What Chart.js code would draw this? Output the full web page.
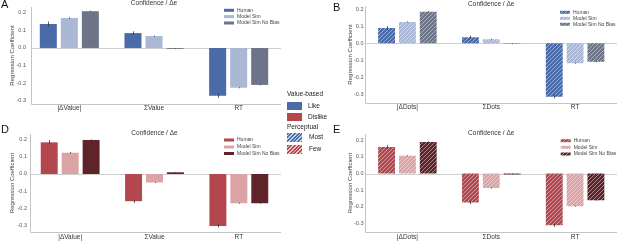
<!DOCTYPE html>
<html><head><meta charset="utf-8">
<script src="https://cdn.jsdelivr.net/npm/chart.js@4/dist/chart.umd.min.js"></script>
<style>
html,body{margin:0;padding:0;width:617px;height:241px;overflow:hidden;background:#fff;font-family:"Liberation Sans",Arial,sans-serif;}
canvas{position:absolute;}
.t{position:absolute;line-height:1;white-space:nowrap;color:#222;transform:translateY(-50%);}
.sw{position:absolute;}
.pl{position:absolute;font-size:11px;line-height:11px;color:#111;}
</style></head><body>
<canvas id="cA" width="292" height="115" style="left:0;top:0"></canvas>
<canvas id="cB" width="287" height="115" style="left:330px;top:0"></canvas>
<canvas id="cD" width="292" height="126" style="left:0;top:115px"></canvas>
<canvas id="cE" width="287" height="126" style="left:330px;top:115px"></canvas>

<div class="pl" style="left:1px;top:-1px">A</div>
<div class="pl" style="left:333px;top:2px">B</div>
<div class="pl" style="left:1px;top:123.5px">D</div>
<div class="pl" style="left:333px;top:123.5px">E</div>

<div class="t" style="left:287px;top:94px;font-size:6.5px">Value-based</div>
<div class="sw" style="left:287px;top:102px;width:15px;height:8px;background:#4A6BA8"></div>
<div class="t" style="left:308px;top:105.5px;font-size:6.5px">Like</div>
<div class="sw" style="left:287px;top:113px;width:15px;height:8px;background:#B4464E"></div>
<div class="t" style="left:308px;top:117px;font-size:6.5px">Dislike</div>
<div class="t" style="left:287px;top:127px;font-size:6.5px">Perceptual</div>
<div class="sw" style="left:287px;top:133px;width:15px;height:9px;background:repeating-linear-gradient(135deg,#4A6BA8 0px,#4A6BA8 1.6px,#c4d0ea 1.6px,#c4d0ea 2.6px)"></div>
<div class="t" style="left:309px;top:137px;font-size:6.5px">Most</div>
<div class="sw" style="left:287px;top:145px;width:15px;height:9px;background:repeating-linear-gradient(135deg,#B4464E 0px,#B4464E 1.6px,#ebc3c6 1.6px,#ebc3c6 2.6px)"></div>
<div class="t" style="left:309px;top:149px;font-size:6.5px">Few</div>

<script>
// ---- data ----
const chartTitle = 'Confidence / Δe';
const yAxisTitle = 'Regression Coefficient';
const categoriesValue = ['|ΔValue|', 'ΣValue', 'RT'];
const categoriesDots = ['|ΔDots|', 'ΣDots', 'RT'];
const seriesNames = ['Human', 'Model Sim', 'Model Sim No Bias'];
const yTicks = [-0.3, -0.2, -0.1, 0.0, 0.1, 0.2];
const yTickLabels = ['-0.3', '-0.2', '-0.1', '0.0', '0.1', '0.2'];

// A: value-based, Like
const likeHuman = [0.137, 0.085, -0.273];
const likeHumanErr = [0.014, 0.010, 0.012];
const likeModel = [0.171, 0.068, -0.227];
const likeModelErr = [0.004, 0.003, 0.003];
const likeNoBias = [0.210, -0.005, -0.211];
const likeNoBiasErr = [0.003, 0.002, 0.003];

// B: perceptual, Most
const mostHuman = [0.090, 0.036, -0.316];
const mostHumanErr = [0.011, 0.009, 0.010];
const mostModel = [0.126, 0.024, -0.118];
const mostModelErr = [0.003, 0.003, 0.003];
const mostNoBias = [0.186, -0.003, -0.109];
const mostNoBiasErr = [0.003, 0.002, 0.003];

// D: value-based, Dislike
const dislikeHuman = [0.186, -0.160, -0.305];
const dislikeHumanErr = [0.013, 0.010, 0.010];
const dislikeModel = [0.125, -0.050, -0.172];
const dislikeModelErr = [0.004, 0.003, 0.003];
const dislikeNoBias = [0.200, 0.010, -0.172];
const dislikeNoBiasErr = [0.003, 0.002, 0.003];

// E: perceptual, Few
const fewHuman = [0.160, -0.173, -0.310];
const fewHumanErr = [0.011, 0.010, 0.010];
const fewModel = [0.107, -0.087, -0.196];
const fewModelErr = [0.003, 0.003, 0.003];
const fewNoBias = [0.190, -0.005, -0.160];
const fewNoBiasErr = [0.003, 0.002, 0.003];

// ---- styles ----
const blues = ['#4A6BA8', '#AAB8D6', '#6D7488'];
const reds = ['#B4464E', '#DCA3A6', '#5E2429'];

function hatch(ctx, color) {
  const c = document.createElement('canvas');
  c.width = 4; c.height = 4;
  const x = c.getContext('2d');
  x.fillStyle = color; x.fillRect(0, 0, 4, 4);
  x.strokeStyle = 'rgba(255,255,255,0.45)'; x.lineWidth = 1;
  x.beginPath();
  x.moveTo(-1, 5); x.lineTo(5, -1);
  x.moveTo(-1, 1); x.lineTo(1, -1);
  x.moveTo(3, 5); x.lineTo(5, 3);
  x.stroke();
  return ctx.createPattern(c, 'repeat');
}

const deco = {
  id: 'deco',
  beforeDatasetsDraw(chart, args, o) {
    const ctx = chart.ctx, ca = chart.chartArea, y = chart.scales.y;
    ctx.save();
    ctx.strokeStyle = '#cfcfcf'; ctx.lineWidth = 1;
    const y0 = Math.round(y.getPixelForValue(0)) + 0.5;
    ctx.beginPath(); ctx.moveTo(o.spineX, y0); ctx.lineTo(ca.right, y0); ctx.stroke();
    ctx.strokeStyle = '#c4c4c4';
    ctx.beginPath();
    ctx.moveTo(o.spineX + 0.5, ca.top); ctx.lineTo(o.spineX + 0.5, ca.bottom + 0.5);
    ctx.lineTo(ca.right - o.xEndInset, ca.bottom + 0.5);
    ctx.stroke();
    ctx.restore();
  },
  afterDatasetsDraw(chart, args, o) {
    const ctx = chart.ctx, ca = chart.chartArea, y = chart.scales.y;
    ctx.save();
    // error bars
    ctx.strokeStyle = '#333'; ctx.lineWidth = 0.8;
    chart.data.datasets.forEach((ds, i) => {
      const meta = chart.getDatasetMeta(i);
      meta.data.forEach((bar, j) => {
        const v = ds.data[j], e = ds.errors[j];
        const x = Math.round(bar.x) + 0.5;
        ctx.beginPath();
        ctx.moveTo(x, y.getPixelForValue(v - e));
        ctx.lineTo(x, y.getPixelForValue(v + e));
        ctx.stroke();
      });
    });
    // title
    ctx.fillStyle = '#333';
    ctx.font = '6.5px "Liberation Sans", Arial, sans-serif';
    ctx.textAlign = 'center'; ctx.textBaseline = 'middle';
    ctx.fillText(chartTitle, (ca.left + ca.right) / 2, o.titleY);
    // legend
    ctx.font = '5px "Liberation Sans", Arial, sans-serif';
    ctx.textAlign = 'left';
    chart.data.datasets.forEach((ds, i) => {
      const ry = o.legendRows[i];
      ctx.fillStyle = ds.backgroundColor;
      ctx.fillRect(o.legendX, ry - 1.5, 10, 3);
      ctx.fillStyle = '#444';
      ctx.fillText(ds.label, o.legendX + 13, ry);
    });
    ctx.restore();
  }
};

function makeChart(id, cats, vals, errs, colors, hatched, p) {
  const canvas = document.getElementById(id);
  const ctx = canvas.getContext('2d');
  const datasets = vals.map((v, i) => ({
    label: seriesNames[i],
    data: v,
    errors: errs[i],
    backgroundColor: hatched ? hatch(ctx, colors[i]) : colors[i],
    borderWidth: 0,
    categoryPercentage: 0.745,
    barPercentage: 0.81
  }));
  return new Chart(ctx, {
    type: 'bar',
    data: { labels: cats, datasets },
    plugins: [deco],
    options: {
      responsive: false,
      animation: false,
      devicePixelRatio: 1,
      layout: { padding: { top: p.padTop, right: p.padRight, left: 0, bottom: 0 } },
      plugins: {
        legend: { display: false },
        title: { display: false },
        tooltip: { enabled: false },
        deco: p
      },
      scales: {
        x: {
          grid: { display: false, drawTicks: false },
          border: { display: false },
          ticks: { padding: p.xPad, color: '#333', font: { family: '"Liberation Sans", Arial, sans-serif', size: 6.5 }, maxRotation: 0 },
          afterFit(s) { s.height = p.xHeight; }
        },
        y: {
          min: p.min, max: p.max,
          grid: { display: false, drawTicks: false },
          border: { display: false },
          afterBuildTicks(s) { s.ticks = yTicks.map(v => ({ value: v })); },
          ticks: {
            padding: p.yPad, color: '#555',
            font: { family: '"Liberation Sans", Arial, sans-serif', size: 5.5 },
            callback: (v, i) => yTickLabels[i]
          },
          title: {
            display: true, text: yAxisTitle, color: '#444',
            font: { family: '"Liberation Sans", Arial, sans-serif', size: 6 },
            padding: { top: p.yTitlePad, bottom: 0 }
          },
          afterFit(s) { s.width = p.yWidth; }
        }
      }
    }
  });
}

makeChart('cA', categoriesValue,
  [likeHuman, likeModel, likeNoBias], [likeHumanErr, likeModelErr, likeNoBiasErr], blues, false,
  { min: -0.32, max: 0.234, padTop: 7, padRight: 11, yWidth: 27, xHeight: 11, xPad: 0, yPad: 1,
    yTitlePad: 8.4, spineX: 31, xEndInset: 0, titleY: 3.5, legendX: 224, legendRows: [10.3, 16.6, 23] });

makeChart('cB', categoriesDots,
  [mostHuman, mostModel, mostNoBias], [mostHumanErr, mostModelErr, mostNoBiasErr], blues, true,
  { min: -0.353, max: 0.22, padTop: 6, padRight: 0, yWidth: 35.5, xHeight: 12, xPad: 0, yPad: 2,
    yTitlePad: 17, spineX: 35, xEndInset: 0, titleY: 4, legendX: 230, legendRows: [12.3, 18.3, 24.3] });

makeChart('cD', categoriesValue,
  [dislikeHuman, dislikeModel, dislikeNoBias], [dislikeHumanErr, dislikeModelErr, dislikeNoBiasErr], reds, false,
  { min: -0.341, max: 0.235, padTop: 19, padRight: 11, yWidth: 28, xHeight: 9, xPad: 1, yPad: 1,
    yTitlePad: 9, spineX: 30, xEndInset: 0, titleY: 18.3, legendX: 224, legendRows: [25, 32, 38.5] });

makeChart('cE', categoriesDots,
  [fewHuman, fewModel, fewNoBias], [fewHumanErr, fewModelErr, fewNoBiasErr], reds, true,
  { min: -0.351, max: 0.238, padTop: 19, padRight: 0, yWidth: 35.5, xHeight: 9, xPad: 1, yPad: 2,
    yTitlePad: 17, spineX: 35, xEndInset: 0, titleY: 18.3, legendX: 230.7, legendRows: [25.7, 32.3, 39] });
</script>
</body></html>
